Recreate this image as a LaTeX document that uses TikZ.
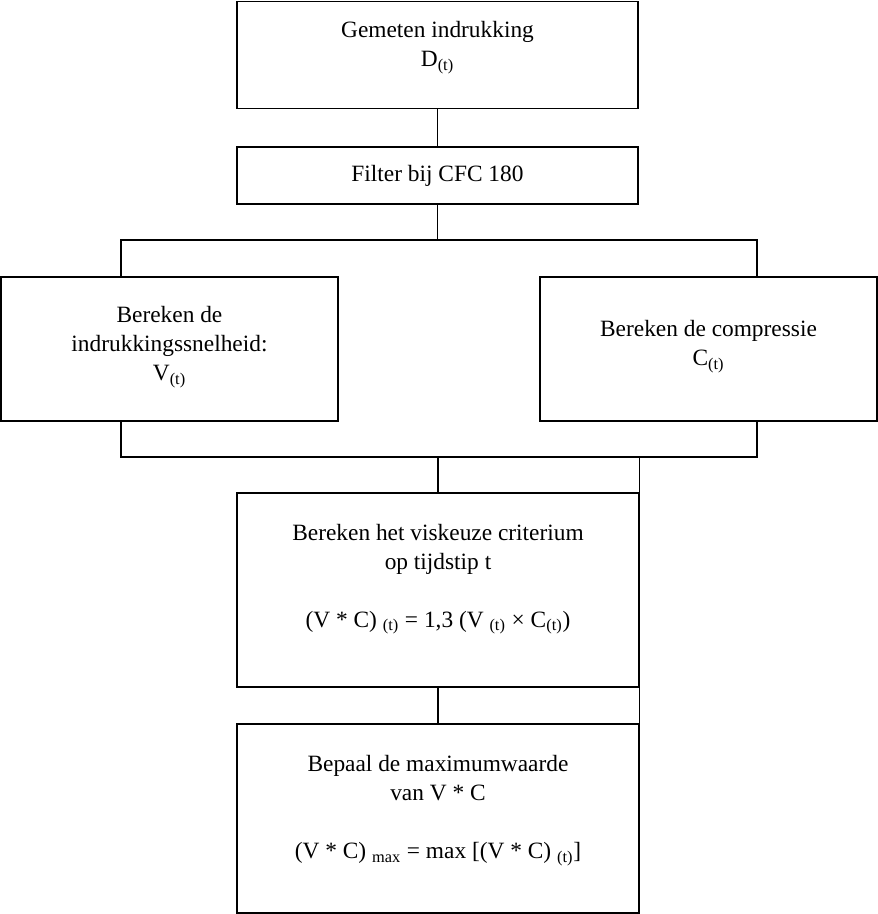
\documentclass[tikz,border=0pt]{standalone}
\usepackage{fontspec}
\setmainfont{Liberation Serif}
\usepackage{tikz}
\usetikzlibrary{positioning}

\begin{document}
\begin{tikzpicture}[
        x=0.02cm, y=-0.02cm,
        every node/.style={font=\fontsize{13.3}{16.5}\selectfont},
        box/.style={rectangle, draw=black, line width=1pt, align=center, inner sep=0pt},
        wide/.style={box, minimum width=8.03cm},
        side/.style={box, minimum width=6.73cm, minimum height=2.88cm},
        link/.style={draw=black, line width=1pt}
    ]
        \useasboundingbox (0,0) rectangle (877,914);

        % Blokken
        \node[wide, minimum height=2.14cm] (gemeten) at (437.5,55) {Gemeten indrukking\\D\textsubscript{(t)}\\[-4pt]};
        \node[wide, minimum height=1.14cm] (filter) at (437.5,175.5) {Filter bij CFC 180};
        \node[side] (snelheid) at (169.5,349) {Bereken de\\indrukkingssnelheid:\\V\textsubscript{(t)}\\[-10pt]};
        \node[side] (compressie) at (708.5,349) {Bereken de compressie\\C\textsubscript{(t)}\\[-10pt]};
        \node[wide, minimum height=3.88cm] (criterium) at (438,590) {Bereken het viskeuze criterium\\op tijdstip t\\[16.5pt]
            (V * C) \textsubscript{(t)} = 1,3 (V \textsubscript{(t)} × C\textsubscript{(t)})\\};
        \node[wide, minimum height=3.78cm] (maximum) at (438,818.5) {Bepaal de maximumwaarde\\van V * C\\[16.5pt]
            (V * C) \textsubscript{max} = max [(V * C) \textsubscript{(t)}]\\[-3pt]};

        % Verdeelpunten
        \coordinate (busTL) at (121,240);
        \coordinate (busTR) at (757,240);
        \coordinate (busBL) at (121,457);
        \coordinate (busBR) at (757,457);

        % Verbindingen
        \draw[link] (gemeten) -- (filter);
        \draw[link] (filter) -- (filter |- busTL);
        \draw[link] (snelheid.north -| busTL) |- (busTR) -- (compressie.north -| busTR);
        \draw[link] (snelheid.south -| busBL) |- (busBR) -- (compressie.south -| busBR);
        \draw[link] (criterium.north) -- (criterium.north |- busBL);
        \draw[link] (maximum.north east) -- (maximum.north east |- busBR);
        \draw[link] (criterium) -- (maximum);
    \end{tikzpicture}
\end{document}
